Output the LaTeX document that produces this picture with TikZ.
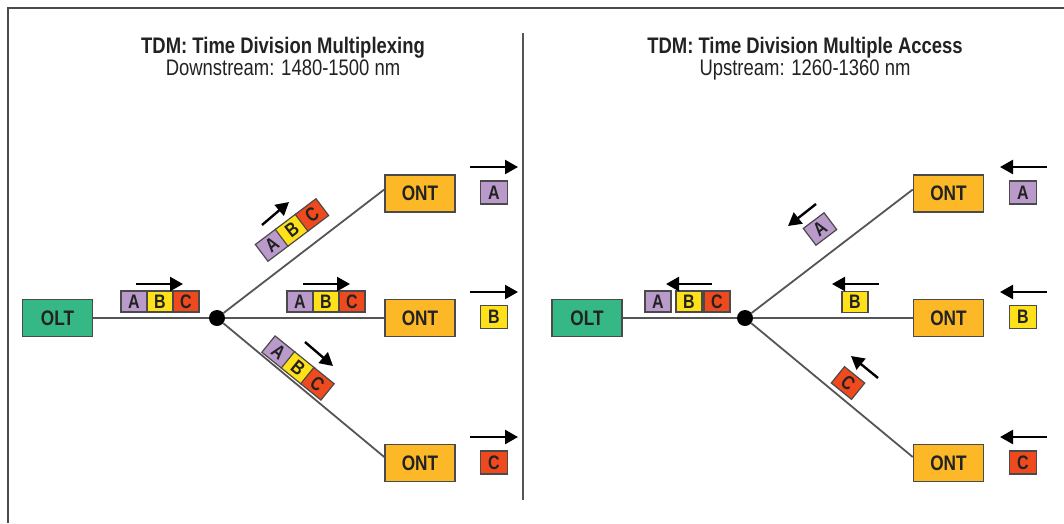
\documentclass[tikz,border=0pt]{standalone}
\usepackage{fontspec}
\setmainfont{Liberation Sans}[FakeStretch=0.82]
\usetikzlibrary{arrows.meta}

\definecolor{oltfill}{HTML}{35B885}
\definecolor{ontfill}{HTML}{FDB827}
\definecolor{pktA}{HTML}{B99ACB}
\definecolor{pktB}{HTML}{FFE11A}
\definecolor{pktC}{HTML}{EE4A1E}
\definecolor{edgegray}{HTML}{4A4A4A}
\definecolor{fibregray}{HTML}{555555}
\definecolor{ink}{HTML}{222222}

\tikzset{
  unitbox/.style={draw=edgegray, line width=1.5pt, minimum width=70pt,
    minimum height=37pt, inner sep=0pt, text=ink,
    font=\bfseries\fontsize{21}{21}\selectfont},
  oltbox/.style={unitbox, fill=oltfill},
  ontbox/.style={unitbox, fill=ontfill},
  cell/.style={draw=edgegray, line width=1.2pt, minimum width=26pt,
    minimum height=21pt, inner sep=0pt, text=ink,
    font=\bfseries\fontsize{19.5}{19.5}\selectfont},
  tag/.style={cell, minimum width=27pt, minimum height=23pt},
  cA/.style={cell, fill=pktA}, cB/.style={cell, fill=pktB}, cC/.style={cell, fill=pktC},
  tA/.style={tag, fill=pktA}, tB/.style={tag, fill=pktB}, tC/.style={tag, fill=pktC},
  fibre/.style={draw=fibregray, line width=1.8pt},
  splitter/.style={circle, fill=black, minimum size=16pt, inner sep=0pt},
  flow/.style={line width=2.4pt, -{Triangle[length=13pt,width=14pt]}},
  frameline/.style={draw=edgegray, line width=2.4pt},
  heading/.style={text=ink, font=\bfseries\fontsize{22.5}{26}\selectfont, anchor=base},
  subheading/.style={text=ink, font=\fontsize{22.5}{26}\selectfont, anchor=base},
}

\begin{document}
\begin{tikzpicture}[x=1pt, y=-1pt]
\useasboundingbox (0,0) rectangle (1064,523);

% outer frame and centre divider
\draw[frameline] (8,523) -- (8,8) -- (1064,8);
\draw[draw=fibregray, line width=2pt] (523,33) -- (523,500);

% headings
\node[heading] (tl) at (283,53) {TDM: Time Division Multiplexing};
\node[subheading] (sl) at (283,75) {Downstream: 1480-1500 nm};
\node[heading] (tr) at (805,53) {TDM: Time Division Multiple Access};
\node[subheading] (sr) at (805,75) {Upstream: 1260-1360 nm};

% ---------------- downstream side ----------------
\node[oltbox] (oltL) at (57.5,318) {OLT};
\node[splitter] (splitL) at (217,318) {};
\node[ontbox] (ontL1) at (420,193.5) {ONT};
\node[ontbox] (ontL2) at (420,318) {ONT};
\node[ontbox] (ontL3) at (420,463) {ONT};

\draw[fibre] (oltL.east) -- (splitL);
\draw[fibre] (splitL) -- ([yshift=4pt]ontL1.west);
\draw[fibre] (splitL) -- (ontL2.west);
\draw[fibre] (splitL) -- ([yshift=6pt]ontL3.west);

% frame on the feeder
\node[cA] (d0a) at (134,301.5) {A};
\node[cB] (d0b) at (160,301.5) {B};
\node[cC] (d0c) at (186,301.5) {C};
\draw[flow] (136,284) -- (183,284);

% frame on the upper branch
\begin{scope}[shift={(292,230)}, rotate=37, transform shape]
  \node[cA] (d1a) at (-25,0) {A};
  \node[cB] (d1b) at (0,0) {B};
  \node[cC] (d1c) at (25,0) {C};
\end{scope}
\draw[flow] (262,225) -- (289,202);

% frame on the middle branch
\node[cA] (d2a) at (300,301.5) {A};
\node[cB] (d2b) at (326,301.5) {B};
\node[cC] (d2c) at (352,301.5) {C};
\draw[flow] (303,284) -- (350,284);

% frame on the lower branch
\begin{scope}[shift={(298,368)}, rotate=-39, transform shape]
  \node[cA] (d3a) at (-25,0) {A};
  \node[cB] (d3b) at (0,0) {B};
  \node[cC] (d3c) at (25,0) {C};
\end{scope}
\draw[flow] (305,342) -- (333,366);

% slots delivered to each ONT
\draw[flow] (470,167) -- (518,167);
\node[tA] (rxA) at (494,192.5) {A};
\draw[flow] (470,292) -- (518,292);
\node[tB] (rxB) at (494,317) {B};
\draw[flow] (470,437) -- (518,437);
\node[tC] (rxC) at (494,462.5) {C};

% ---------------- upstream side ----------------
\node[oltbox] (oltR) at (587,318) {OLT};
\node[splitter] (splitR) at (745,318) {};
\node[ontbox] (ontR1) at (948.5,193.5) {ONT};
\node[ontbox] (ontR2) at (948.5,318) {ONT};
\node[ontbox] (ontR3) at (948.5,463) {ONT};

\draw[fibre] (oltR.east) -- (splitR);
\draw[fibre] (splitR) -- ([yshift=4pt]ontR1.west);
\draw[fibre] (splitR) -- (ontR2.west);
\draw[fibre] (splitR) -- ([yshift=6pt]ontR3.west);

% combined burst on the feeder
\node[cA] (u0a) at (658,301.5) {A};
\node[cB] (u0b) at (689,301.5) {B};
\node[cC] (u0c) at (717,301.5) {C};
\draw[flow] (712,284) -- (666,284);

% single bursts on the branches
\node[cA, rotate=37] (u1a) at (820,229) {A};
\draw[flow] (816,204) -- (788,226);
\node[cB] (u2b) at (855,302) {B};
\draw[flow] (879,284) -- (832,284);
\node[cC, rotate=-39] (u3c) at (848,383) {C};
\draw[flow] (878,378) -- (851,356);

% slots sent by each ONT
\draw[flow] (1047,167) -- (1000,167);
\node[tA] (txA) at (1023,192.5) {A};
\draw[flow] (1047,292) -- (1000,292);
\node[tB] (txB) at (1023,317) {B};
\draw[flow] (1047,437) -- (1000,437);
\node[tC] (txC) at (1023,462.5) {C};
\end{tikzpicture}
\end{document}
